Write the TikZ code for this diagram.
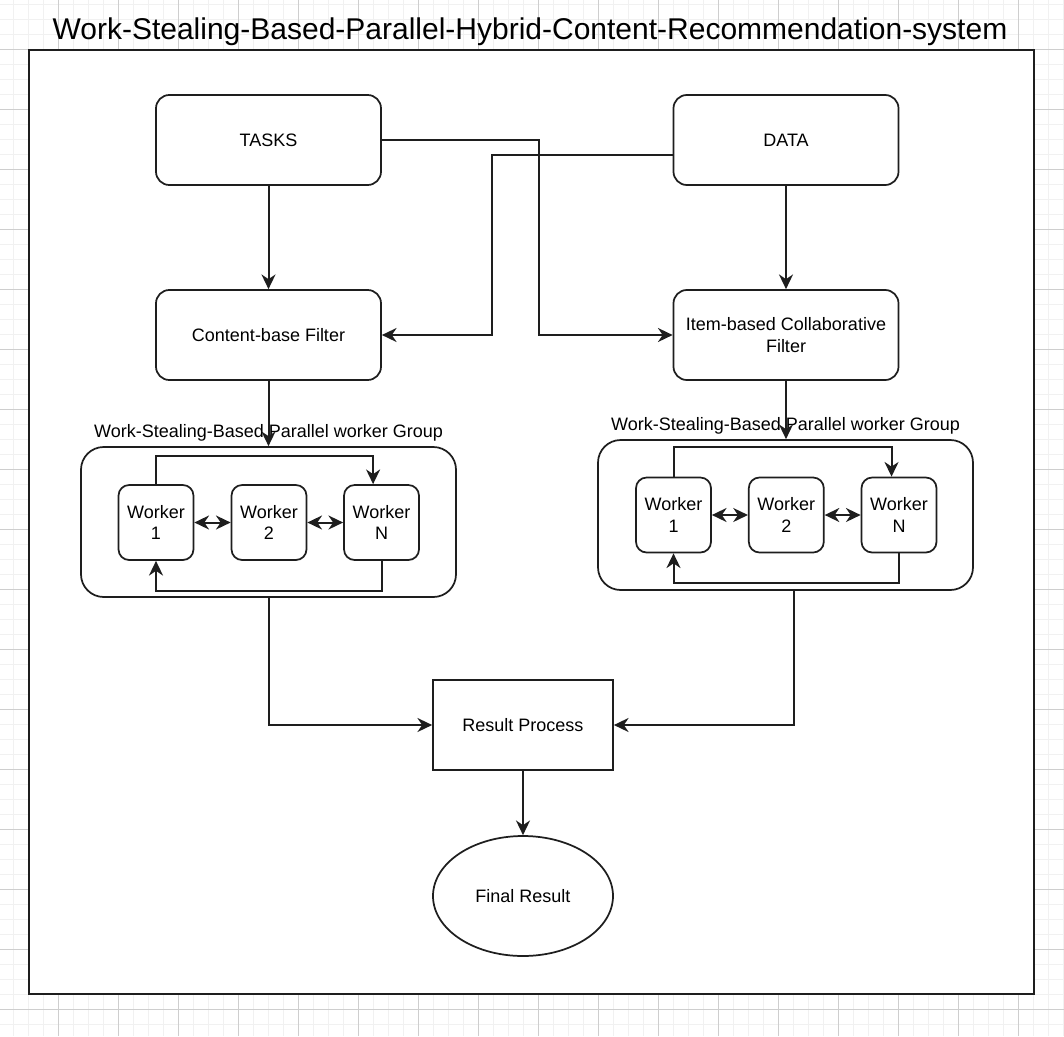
\documentclass[tikz,border=0pt]{standalone}
\usepackage{fontspec}
\setmainfont{Liberation Sans}
\usetikzlibrary{arrows.meta,shapes.geometric}
\definecolor{ink}{RGB}{30,30,30}
\definecolor{gridminor}{RGB}{241,241,241}
\definecolor{gridmajor}{RGB}{206,206,206}
\newcommand{\boxfont}{\fontsize{13.5}{16}\selectfont}
\newcommand{\titlefont}{\fontsize{22.5}{27}\selectfont}

\begin{document}
\begin{tikzpicture}[x=0.75pt,y=-0.75pt,
    tip/.tip={Stealth[length=11pt,width=10.5pt,inset=3.5pt]},
    stream/.style={-tip,line width=1.5pt,draw=ink},
    twoway/.style={tip-tip,line width=1.5pt,draw=ink},
    block/.style={draw=ink,fill=white,line width=1.3pt,rounded corners=10pt,minimum width=168.75pt,minimum height=67.5pt,inner sep=0pt,align=center,font=\boxfont},
    worker/.style={block,rounded corners=8pt,minimum width=56.25pt,minimum height=56.25pt},
    group/.style={draw=ink,fill=white,line width=1.3pt,rounded corners=17pt,minimum width=281.25pt,minimum height=112.5pt,inner sep=0pt},
    grouplabel/.style={font=\boxfont,anchor=base,inner sep=0pt}]
    \useasboundingbox (0,0) rectangle (1064,1036);
    %grid
    \foreach \i in {0,...,71}{
        \draw [gridminor,line width=1.1pt] (-1.7+15*\i,0) -- (-1.7+15*\i,1036);}
    \foreach \j in {0,...,69}{
        \draw [gridminor,line width=1.1pt] (0,4.3+15*\j) -- (1064,4.3+15*\j);}
    \foreach \i in {0,...,18}{
        \draw [gridmajor,line width=0.8pt] (-1.7+60*\i,0) -- (-1.7+60*\i,1036);}
    \foreach \j in {0,...,18}{
        \draw [gridmajor,line width=0.8pt] (0,-10.7+60*\j) -- (1064,-10.7+60*\j);}
    %frame
    \draw [ink,line width=1.8pt,fill=white] (29,50) rectangle (1034,994);
    \node [font=\titlefont,anchor=base,inner sep=0pt] (title) at (530,39.3)
        {Work-Stealing-Based-Parallel-Hybrid-Content-Recommendation-system};
    %sources
    \node [block] (tasks) at (268.5,140) {TASKS};
    \node [block] (data) at (786,140) {DATA};
    %filters
    \node [block] (cbf) at (268.5,335) {Content-base Filter};
    \node [block] (ibcf) at (786,335) {Item-based Collaborative\\Filter};
    \draw [stream] (tasks) -- (cbf);
    \draw [stream] (data) -- (ibcf);
    \draw [stream] (tasks.east) -- ++(157.5,0) |- (ibcf.west);
    \draw [stream] ([yshift=-11.25pt]data.west) -- ++(-180.5,0) |- (cbf.east);
    %left worker group
    \node [group] (grpL) at (268.5,522) {};
    \node [grouplabel] (lblL) at ([yshift=6.2pt]grpL.north) {Work-Stealing-Based Parallel worker Group};
    \node [worker] (wl1) at (156,522.5) {Worker\\1};
    \node [worker] (wl2) at (269,522.5) {Worker\\2};
    \node [worker] (wlN) at (381.5,522.5) {Worker\\N};
    \draw [stream] (cbf) -- (grpL);
    \draw [twoway] (wl1) -- (wl2);
    \draw [twoway] (wl2) -- (wlN);
    \draw [stream] (wl1.north) -- ++(0,-28.5) -| ([xshift=-6.3pt]wlN.north);
    \draw [stream] (wlN.south) -- ++(0,30) -| (wl1.south);
    %right worker group
    \node [group] (grpR) at (785.5,515) {};
    \node [grouplabel] (lblR) at ([yshift=6.2pt]grpR.north) {Work-Stealing-Based Parallel worker Group};
    \node [worker] (wr1) at (673.5,515) {Worker\\1};
    \node [worker] (wr2) at (786.3,515) {Worker\\2};
    \node [worker] (wrN) at (899,515) {Worker\\N};
    \draw [stream] (ibcf.south) -- (ibcf.south |- grpR.north);
    \draw [twoway] (wr1) -- (wr2);
    \draw [twoway] (wr2) -- (wrN);
    \draw [stream] (wr1.north) -- ++(0,-29.5) -| ([xshift=-5.6pt]wrN.north);
    \draw [stream] (wrN.south) -- ++(0,30) -| (wr1.south);
    %results
    \node [block,rounded corners=0pt,minimum width=135pt] (result) at (523,725) {Result Process};
    \node [draw=ink,fill=white,line width=1.3pt,ellipse,minimum width=135pt,minimum height=90pt,inner sep=0pt,font=\boxfont] (final) at (523,896) {Final Result};
    \draw [stream] (grpL.south) |- (result.west);
    \draw [stream] ([xshift=6.3pt]grpR.south) |- (result.east);
    \draw [stream] (result) -- (final);
\end{tikzpicture}
\end{document}
